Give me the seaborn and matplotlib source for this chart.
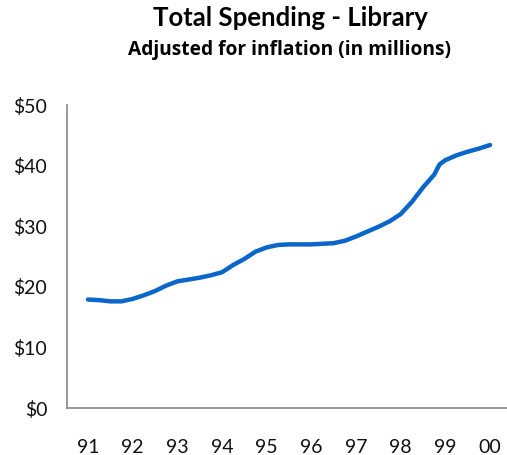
import matplotlib
matplotlib.use("Agg")
import matplotlib.pyplot as plt
import seaborn as sns
import pandas as pd

# Quarterly points, year offset from 1991
year_pos = [0.0, 0.25, 0.5, 0.75, 1.0, 1.25, 1.5, 1.75, 2.0, 2.25, 2.5, 2.75,
            3.0, 3.25, 3.5, 3.75, 4.0, 4.25, 4.5, 4.75, 5.0, 5.25, 5.5, 5.75,
            6.0, 6.25, 6.5, 6.75, 7.0, 7.25, 7.5, 7.75, 7.87, 8.0, 8.25, 8.5,
            8.75, 9.0]
spending = [17.9, 17.8, 17.6, 17.6, 18.0, 18.6, 19.3, 20.2, 20.9, 21.2, 21.5, 21.9,
            22.4, 23.6, 24.6, 25.8, 26.5, 26.9, 27.0, 27.0, 27.0, 27.1, 27.2, 27.6,
            28.3, 29.1, 29.9, 30.8, 32.0, 34.0, 36.4, 38.5, 40.2, 40.9, 41.7, 42.3,
            42.8, 43.4]
x_labels = ["91", "92", "93", "94", "95", "96", "97", "98", "99", "00"]
y_ticks = [0, 10, 20, 30, 40, 50]
y_labels = ["$0", "$10", "$20", "$30", "$40", "$50"]

df = pd.DataFrame({"t": year_pos, "v": spending})

sns.set_style("white")
plt.rcParams["font.family"] = ["Lato", "DejaVu Sans"]

fig = plt.figure(figsize=(5.07, 4.55), dpi=100)
ax = fig.add_axes([66.7 / 507, 47 / 455, 1 - 66.7 / 507, (408 - 105) / 455])

sns.lineplot(data=df, x="t", y="v", ax=ax, color="#0a66c8", linewidth=3.2)

ax.set_xlim(-0.477, 9.38)
ax.set_ylim(0, 50)
ax.set_xticks(range(len(x_labels)))
ax.set_xticklabels(x_labels, fontsize=14, color="#111111")
ax.set_yticks(y_ticks)
ax.set_yticklabels(y_labels, fontsize=14, color="#111111")
ax.tick_params(axis="x", length=0, pad=22)
ax.tick_params(axis="y", length=0, pad=14)
ax.set_xlabel("")
ax.set_ylabel("")
for s in ["top", "right"]:
    ax.spines[s].set_visible(False)
for s in ["left", "bottom"]:
    ax.spines[s].set_color("#888888")
    ax.spines[s].set_linewidth(1.2)

fig.text(290 / 507, 1 - 18 / 455, "Total Spending - Library", ha="center", va="center",
         fontsize=18.5, fontweight="bold", color="#000000")
fig.text(290 / 507, 1 - 50 / 455, "Adjusted for inflation (in millions)", ha="center", va="center",
         fontsize=13.8, fontweight="bold", color="#000000", family=["Open Sans", "DejaVu Sans"])

fig.savefig("out.png", dpi=100)
